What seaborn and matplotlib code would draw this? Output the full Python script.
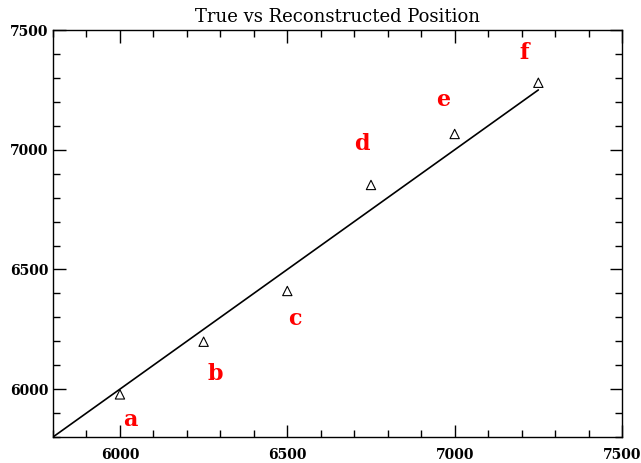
import numpy as np
import pandas as pd
import matplotlib
matplotlib.use("Agg")
import matplotlib.pyplot as plt
from matplotlib.ticker import MultipleLocator
import seaborn as sns

# data
true_pos = [6000, 6250, 6500, 6750, 7000, 7250]
recon_pos = [5978, 6198, 6410, 6853, 7066, 7280]
labels = ["a", "b", "c", "d", "e", "f"]
label_x = [6030, 6284, 6523, 6723, 6965, 7207]
label_y = [5871, 6063, 6292, 7025, 7208, 7404]
line_x = [5800, 7250]
line_y = [5800, 7250]

sns.set_style("ticks")
plt.rcParams["font.family"] = ["DejaVu Serif"]
plt.rcParams["xtick.direction"] = "in"
plt.rcParams["ytick.direction"] = "in"
plt.rcParams["text.color"] = "black"
plt.rcParams["xtick.color"] = "black"
plt.rcParams["ytick.color"] = "black"

df = pd.DataFrame({"true": true_pos, "recon": recon_pos})
ref = pd.DataFrame({"x": line_x, "y": line_y})

fig = plt.figure(figsize=(6.41, 4.63), dpi=100)
ax = fig.add_axes([0.0827, 0.0562, 0.8877, 0.8788])

sns.lineplot(data=ref, x="x", y="y", color="black", linewidth=1.2, ax=ax)
sns.scatterplot(data=df, x="true", y="recon", marker="^", s=45,
                facecolor="none", edgecolor="black", linewidth=0.8, ax=ax)

for lx, ly, lab in zip(label_x, label_y, labels):
    ax.text(lx, ly, lab, color="red", fontsize=16, fontweight="bold",
            ha="center", va="center")

ax.set_xlim(5800, 7500)
ax.set_ylim(5800, 7500)
ax.xaxis.set_major_locator(MultipleLocator(500))
ax.yaxis.set_major_locator(MultipleLocator(500))
ax.xaxis.set_minor_locator(MultipleLocator(100))
ax.yaxis.set_minor_locator(MultipleLocator(100))
ax.tick_params(which="both", direction="in", top=True, right=True,
               color="black", labelcolor="black", width=1)
ax.tick_params(which="major", length=9, labelsize=10)
ax.tick_params(which="minor", length=5)
ax.tick_params(axis="x", pad=8)
for t in ax.get_xticklabels() + ax.get_yticklabels():
    t.set_fontweight("bold")
for sp in ax.spines.values():
    sp.set_color("black")
    sp.set_linewidth(1)

ax.set_xlabel("")
ax.set_ylabel("")
ax.set_title("True vs Reconstructed Position", fontsize=13, pad=6, color="black")

plt.savefig("out.png", dpi=100)
